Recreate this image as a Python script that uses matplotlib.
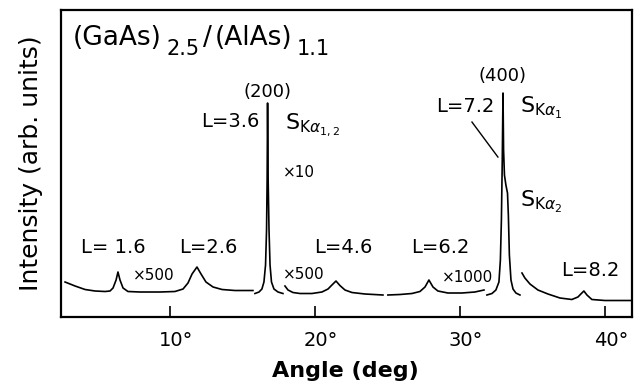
import matplotlib.pyplot as plt
import matplotlib.transforms as mtransforms

plt.rcParams['font.family'] = ['DejaVu Sans']
plt.rcParams['mathtext.fontset'] = 'dejavusans'

# scan segments: angle (deg) and intensity (arb. units)
# each segment was recorded with its own gain (x500, x10, x500, x1000, ...)
seg1_angle = [2.76, 3.45, 4.14, 4.83, 5.52, 5.86, 6.07, 6.28, 6.41, 6.55, 6.76, 7.10,
              7.93, 9.31, 10.34, 10.90, 11.24, 11.52, 11.86, 12.14, 12.48, 12.97,
              13.59, 14.48, 15.72]
seg1_int = [35, 31, 27.5, 26, 25.5, 26, 29, 37, 45, 37, 29, 25.5,
            25, 25, 25.5, 28, 34, 43, 50, 43, 35, 30,
            27.5, 26.5, 26.5]

seg2_angle = [15.86, 16.14, 16.34, 16.48, 16.59, 16.66, 16.70, 16.73, 16.77, 16.83,
              16.90, 17.00, 17.17, 17.45, 17.79]
seg2_int = [23.5, 25, 28, 35, 52, 87, 137, 214, 137, 87,
            52, 35, 28, 25, 23.5]

seg3_angle = [17.93, 18.14, 18.48, 18.97, 19.79, 20.48, 20.90, 21.17, 21.45, 21.72,
              22.07, 22.55, 23.45, 24.69]
seg3_int = [31, 27, 24.5, 23.5, 23.5, 25, 28, 32, 36, 31.5,
            27, 24.5, 23, 22]

seg4_angle = [25.03, 25.86, 26.69, 27.24, 27.59, 27.86, 28.14, 28.48, 29.17, 30.14,
              31.03, 31.66]
seg4_int = [22, 22.5, 23.5, 25.5, 30, 37, 30, 26, 24, 24,
            25, 27]

seg5_angle = [31.86, 32.21, 32.48, 32.69, 32.79, 32.86, 32.92, 32.97, 33.01, 33.07,
              33.17, 33.28, 33.34, 33.41, 33.52, 33.66, 33.86, 34.14]
seg5_int = [22, 23.5, 27, 35, 57, 97, 157, 224, 167, 142,
            132, 124, 102, 62, 37, 28, 24, 22]

seg6_angle = [34.28, 34.48, 34.83, 35.38, 36.07, 36.90, 37.72, 38.14, 38.34, 38.55,
              38.76, 39.10, 40.00, 41.86]
seg6_int = [44, 39, 33, 27, 23, 19, 17.5, 20, 23, 26,
            22, 17.5, 16.5, 16.5]

segments = [(seg1_angle, seg1_int), (seg2_angle, seg2_int), (seg3_angle, seg3_int),
            (seg4_angle, seg4_int), (seg5_angle, seg5_int), (seg6_angle, seg6_int)]

tick_angles = [10, 20, 30, 40]
tick_labels = ['10°', '20°', '30°', '40°']

fig = plt.figure(figsize=(6.4, 3.88), dpi=100)
ax = fig.add_axes([0.0953, 0.183, 0.892, 0.791])

for a, i in segments:
    ax.plot(a, i, color='black', lw=1.2, solid_joinstyle='round')

ax.set_xlim(2.48, 41.86)
ax.set_ylim(0, 307)
ax.set_yticks([])
ax.set_xticks(tick_angles)
ax.set_xticklabels(tick_labels, fontsize=14)
ax.tick_params(axis='x', direction='in', length=8, width=1.2, pad=10)
# shift the labels so the number (not the degree sign) sits under the tick
shift = mtransforms.ScaledTranslation(6 / 100, 0, fig.dpi_scale_trans)
for lab in ax.get_xticklabels():
    lab.set_transform(lab.get_transform() + shift)
for sp in ax.spines.values():
    sp.set_linewidth(1.6)

fig.text(0.539, (388 - 371) / 388, 'Angle (deg)', ha='center', va='center',
         fontsize=16, fontweight='bold')
fig.text(31 / 640, (388 - 163) / 388, 'Intensity (arb. units)', ha='center', va='center',
         rotation=90, fontsize=18)

# title, chained piece by piece: each piece starts at the right edge of the last one,
# dy (points) moves it down for subscripts / back up afterwards
t = ax.text(3.31, 272, '(GaAs)', fontsize=19, va='baseline')
title_pieces = [('2.5', 15, -6, 3), ('/', 19, 6, 3), ('(AlAs)', 19, 0, 2), ('1.1', 15, -6, 3)]
for piece, size, dy, gap in title_pieces:
    t = ax.annotate(piece, xy=(1, 0), xycoords=t, xytext=(gap, dy),
                    textcoords='offset points', fontsize=size, va='bottom')

ax.text(16.72, 225, '(200)', ha='center', va='center', fontsize=13)
ax.text(16.15, 196, 'L=3.6', ha='right', va='center', fontsize=14)
ax.text(17.93, 187, r'S$_{\mathrm{K}\alpha_{1,2}}$', va='baseline', fontsize=16)
ax.text(17.79, 145, '×10', va='center', fontsize=11)
ax.text(32.97, 241, '(400)', ha='center', va='center', fontsize=13)
ax.text(32.41, 211, 'L=7.2', ha='right', va='center', fontsize=14)
ax.text(34.14, 204, r'S$_{\mathrm{K}\alpha_1}$', va='baseline', fontsize=16)
ax.text(34.14, 110, r'S$_{\mathrm{K}\alpha_2}$', va='baseline', fontsize=16)
ax.plot([30.83, 32.62], [195, 160], color='black', lw=1.0)

ax.text(6.07, 70, 'L= 1.6', ha='center', va='center', fontsize=14)
ax.text(12.62, 70, 'L=2.6', ha='center', va='center', fontsize=14)
ax.text(21.93, 70, 'L=4.6', ha='center', va='center', fontsize=14)
ax.text(28.62, 70, 'L=6.2', ha='center', va='center', fontsize=14)
ax.text(38.97, 47, 'L=8.2', ha='center', va='center', fontsize=14)
ax.text(8.90, 42, '×500', ha='center', va='center', fontsize=11)
ax.text(17.79, 43, '×500', ha='left', va='center', fontsize=11)
ax.text(28.76, 40, '×1000', ha='left', va='center', fontsize=11)

fig.savefig('out.png', dpi=100)
